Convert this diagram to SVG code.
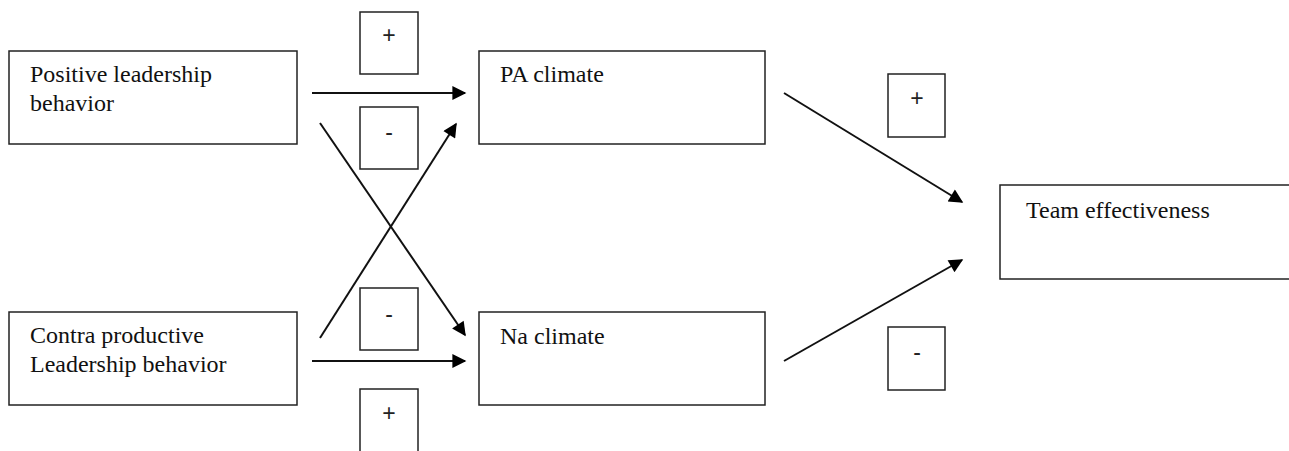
<svg xmlns="http://www.w3.org/2000/svg" width="1289" height="451" viewBox="0 0 1289 451">
<style>
.box{fill:#fff;stroke:#222;stroke-width:1.5}
.lbl{font-family:"Liberation Serif","Times New Roman",serif;font-size:24px;fill:#111}
.sign{font-family:"Liberation Sans",Arial,sans-serif;font-size:23px;fill:#222;text-anchor:middle}
.edge{stroke:#111;stroke-width:2;fill:none;marker-end:url(#ah)}
</style>
<defs>
<marker id="ah" viewBox="0 0 10 10" refX="9" refY="5" markerWidth="8" markerHeight="7" markerUnits="strokeWidth" orient="auto">
<path d="M0,0 L10,5 L0,10 z" fill="#000"/>
</marker>
</defs>
<rect width="1289" height="451" fill="#fff"/>
<g id="connectors">
<line class="edge" x1="312" y1="93" x2="465" y2="93"/>
<line class="edge" x1="320" y1="123" x2="465" y2="335"/>
<line class="edge" x1="320" y1="338" x2="456" y2="124"/>
<line class="edge" x1="312" y1="361" x2="465" y2="361"/>
<line class="edge" x1="784" y1="93" x2="962" y2="202"/>
<line class="edge" x1="784" y1="361" x2="962" y2="260"/>
</g>
<g id="positive">
<rect class="box" x="9" y="51" width="288" height="93"/>
<text class="lbl" x="30" y="82">Positive leadership</text>
<text class="lbl" x="30" y="111">behavior</text>
</g>
<g id="contra">
<rect class="box" x="9" y="312" width="288" height="93"/>
<text class="lbl" x="30" y="343">Contra productive</text>
<text class="lbl" x="30" y="372">Leadership behavior</text>
</g>
<g id="pa">
<rect class="box" x="479" y="51" width="286" height="93"/>
<text class="lbl" x="500" y="82">PA climate</text>
</g>
<g id="na">
<rect class="box" x="479" y="312" width="286" height="93"/>
<text class="lbl" x="500" y="344">Na climate</text>
</g>
<g id="team">
<rect class="box" x="1000" y="185" width="290" height="94"/>
<text class="lbl" x="1026" y="218">Team effectiveness</text>
</g>
<g id="sign-plus-top">
<rect class="box" x="360" y="12" width="58" height="62"/>
<text class="sign" x="389" y="43">+</text>
</g>
<g id="sign-minus-top">
<rect class="box" x="360" y="107" width="58" height="62"/>
<text class="sign" x="389" y="140">-</text>
</g>
<g id="sign-minus-mid">
<rect class="box" x="360" y="288" width="58" height="62"/>
<text class="sign" x="389" y="322">-</text>
</g>
<g id="sign-plus-bottom">
<rect class="box" x="360" y="389" width="58" height="70"/>
<text class="sign" x="389" y="421">+</text>
</g>
<g id="sign-plus-right">
<rect class="box" x="888" y="74" width="57" height="63"/>
<text class="sign" x="917" y="106">+</text>
</g>
<g id="sign-minus-right">
<rect class="box" x="888" y="327" width="57" height="63"/>
<text class="sign" x="917" y="360">-</text>
</g>
</svg>
